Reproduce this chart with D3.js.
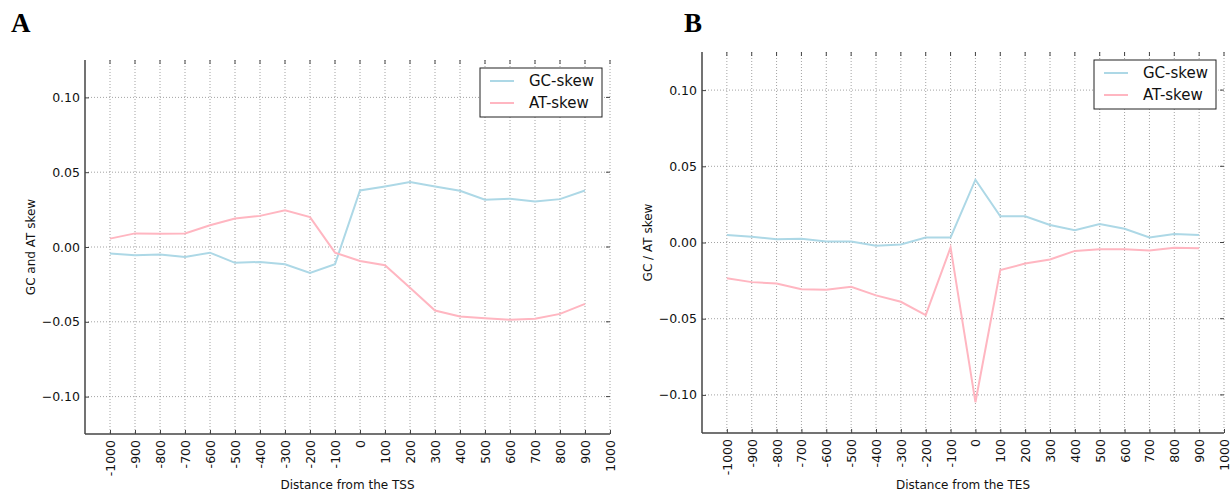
<!DOCTYPE html>
<html>
<head>
<meta charset="utf-8">
<script src="https://cdn.jsdelivr.net/npm/d3@7"></script>
<style>
  body { margin: 0; background: #fff; }
  svg { display: block; font-family: "DejaVu Sans", sans-serif; }
  .grid line { stroke: #8c8c8c; stroke-width: 0.8; stroke-dasharray: 1,2; }
</style>
</head>
<body>
<div class="Chart"></div>
<script>
// positions along the gene (bp)
let positions = [-1000, -900, -800, -700, -600, -500, -400, -300, -200, -100,
                 0, 100, 200, 300, 400, 500, 600, 700, 800, 900];

let xTicks = [-1000, -900, -800, -700, -600, -500, -400, -300, -200, -100,
              0, 100, 200, 300, 400, 500, 600, 700, 800, 900, 1000];
let yTicks = [-0.10, -0.05, 0.00, 0.05, 0.10];

// panel A: around the TSS
let gcTSS = [-0.0044, -0.0055, -0.0050, -0.0066, -0.0038, -0.0106, -0.0100, -0.0115, -0.0173, -0.0115,
             0.0378, 0.0405, 0.0434, 0.0405, 0.0376, 0.0316, 0.0323, 0.0305, 0.0320, 0.0378];
let atTSS = [0.0056, 0.0091, 0.0089, 0.0090, 0.0145, 0.0190, 0.0208, 0.0246, 0.0200, -0.0038,
             -0.0093, -0.0122, -0.0272, -0.0425, -0.0465, -0.0476, -0.0487, -0.0480, -0.0447, -0.0380];

// panel B: around the TES
let gcTES = [0.0050, 0.0037, 0.0022, 0.0024, 0.0007, 0.0007, -0.0022, -0.0013, 0.0033, 0.0033,
             0.0412, 0.0172, 0.0172, 0.0115, 0.0081, 0.0121, 0.0090, 0.0033, 0.0055, 0.0050];
let atTES = [-0.0234, -0.0260, -0.0269, -0.0306, -0.0310, -0.0290, -0.0347, -0.0389, -0.0476, -0.0033,
             -0.1048, -0.0181, -0.0138, -0.0111, -0.0055, -0.0044, -0.0044, -0.0052, -0.0035, -0.0037];

let seriesNames = ["GC-skew", "AT-skew"];
let seriesColors = ["#add8e6", "#ffb6c1"];

let svgWidth = 1232;
let svgHeight = 494;

let svg = d3.select(".Chart")
  .append("svg")
  .attr("width", svgWidth)
  .attr("height", svgHeight);

// format y tick labels with a real minus sign, like matplotlib
let yFmt = v => {
  let s = Math.abs(v).toFixed(2);
  return v < -1e-9 ? "\u2212" + s : s;
};

function drawPanel(opts) {
  let x = d3.scaleLinear().domain([-1100, 1000]).range([opts.left, opts.right]);
  let y = d3.scaleLinear().domain([-0.125, 0.125]).range([opts.bottom, opts.top]);

  let g = svg.append("g");

  // grid
  let grid = g.append("g").attr("class", "grid");
  grid.selectAll(".gx").data(xTicks).enter().append("line")
    .attr("x1", d => x(d)).attr("x2", d => x(d))
    .attr("y1", opts.top).attr("y2", opts.bottom);
  grid.selectAll(".gy").data(yTicks).enter().append("line")
    .attr("x1", opts.left).attr("x2", opts.right)
    .attr("y1", d => y(d)).attr("y2", d => y(d));

  // lines
  let line = d3.line().x((d, i) => x(positions[i])).y(d => y(d));
  [opts.gc, opts.at].forEach((vals, k) => {
    g.append("path")
      .datum(vals)
      .attr("fill", "none")
      .attr("stroke", seriesColors[k])
      .attr("stroke-width", 2)
      .attr("d", line);
  });

  // axes with inward ticks
  let xAxis = d3.axisBottom(x).tickValues(xTicks).tickSize(-4).tickFormat(d => String(d));
  let xg = g.append("g")
    .attr("transform", `translate(0,${opts.bottom})`)
    .call(xAxis);
  xg.select(".domain").attr("stroke", "#444").attr("stroke-width", 1.5)
    .attr("d", `M${opts.left},0H${opts.right}`);
  xg.selectAll(".tick line").attr("stroke", "#444");
  xg.selectAll(".tick text")
    .attr("font-family", "DejaVu Sans")
    .attr("font-size", 12.5)
    .attr("fill", "#111")
    .attr("text-anchor", "end")
    .attr("dominant-baseline", "central")
    .attr("transform", "translate(0,6) rotate(-90)")
    .attr("x", 0).attr("y", 0).attr("dy", null);

  let yAxis = d3.axisLeft(y).tickValues(yTicks).tickSize(-4).tickPadding(5).tickFormat(yFmt);
  let yg = g.append("g")
    .attr("transform", `translate(${opts.left},0)`)
    .call(yAxis);
  yg.select(".domain").attr("stroke", "#444").attr("stroke-width", 1.5)
    .attr("d", `M0,${opts.top}V${opts.bottom}`);
  yg.selectAll(".tick line").attr("stroke", "#444");
  yg.selectAll(".tick text")
    .attr("font-family", "DejaVu Sans")
    .attr("font-size", 12.5)
    .attr("fill", "#111");

  // top and right ticks (spines hidden)
  g.append("g").selectAll("line").data(xTicks).enter().append("line")
    .attr("x1", d => x(d)).attr("x2", d => x(d))
    .attr("y1", opts.top).attr("y2", opts.top + 4)
    .attr("stroke", "#444");
  g.append("g").selectAll("line").data(yTicks).enter().append("line")
    .attr("x1", opts.right).attr("x2", opts.right - 4)
    .attr("y1", d => y(d)).attr("y2", d => y(d))
    .attr("stroke", "#444");

  // axis titles
  g.append("text")
    .attr("x", (opts.left + opts.right) / 2)
    .attr("y", 489)
    .attr("text-anchor", "middle")
    .attr("font-size", 12)
    .attr("fill", "#111")
    .text(opts.xLabel);

  g.append("text")
    .attr("transform", `translate(${opts.left - 54},${(opts.top + opts.bottom) / 2}) rotate(-90)`)
    .attr("text-anchor", "middle")
    .attr("dominant-baseline", "central")
    .attr("font-size", 12)
    .attr("fill", "#111")
    .text(opts.yLabel);

  // panel letter
  g.append("text")
    .attr("x", opts.letterX)
    .attr("y", 32)
    .attr("font-family", "Liberation Serif, serif")
    .attr("font-weight", "bold")
    .attr("font-size", 27)
    .attr("fill", "#000")
    .text(opts.letter);

  // legend
  let lx = opts.right - 8 - 122;
  let ly = opts.top + 8;
  let legend = g.append("g").attr("transform", `translate(${lx},${ly})`);
  legend.append("rect")
    .attr("x", 0).attr("y", 0).attr("width", 122).attr("height", 49)
    .attr("fill", "#fff").attr("stroke", "#222").attr("stroke-width", 1);
  seriesNames.forEach((name, k) => {
    let yy = 13 + k * 22;
    legend.append("line")
      .attr("x1", 10).attr("x2", 34).attr("y1", yy).attr("y2", yy)
      .attr("stroke", seriesColors[k]).attr("stroke-width", 2);
    legend.append("text")
      .attr("x", 49).attr("y", yy)
      .attr("dominant-baseline", "central")
      .attr("font-size", 15)
      .attr("fill", "#111")
      .text(name);
  });
}

drawPanel({
  left: 85, right: 610, top: 60, bottom: 434,
  gc: gcTSS, at: atTSS,
  xLabel: "Distance from the TSS", yLabel: "GC and AT skew",
  letter: "A", letterX: 11
});

drawPanel({
  left: 702, right: 1224, top: 52, bottom: 433,
  gc: gcTES, at: atTES,
  xLabel: "Distance from the TES", yLabel: "GC / AT skew",
  letter: "B", letterX: 684
});
</script>
</body>
</html>
